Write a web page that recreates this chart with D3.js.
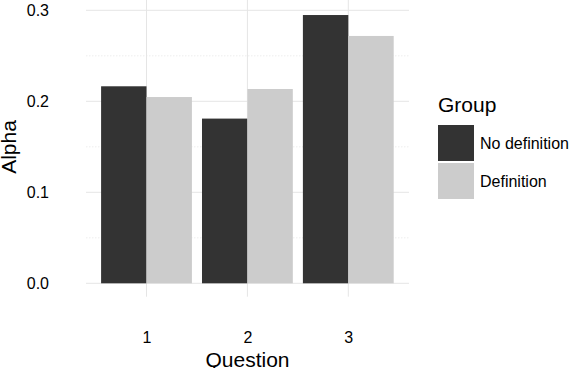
<!DOCTYPE html>
<html><head><meta charset="utf-8">
<script src="https://cdn.jsdelivr.net/npm/d3@7"></script>
<style>body{margin:0;background:#fff}svg{display:block}text{font-family:"Liberation Sans",Arial,sans-serif}</style>
</head><body>
<svg id="c" width="576" height="368"></svg>
<script>
const questions = ["1", "2", "3"];
const groups = ["No definition", "Definition"];
const noDefinition = [0.2165, 0.181, 0.2948];
const definition = [0.2047, 0.2135, 0.2718];
const yTicks = [0.0, 0.1, 0.2, 0.3];
const yMinor = [0.05, 0.15, 0.25];
const groupColors = ["#333333", "#cccccc"];

const svg = d3.select("#c");
const panel = {left: 86, right: 409, top: 1.6, bottom: 296.7};

const xp = d3.scalePoint().domain(questions).range([146.5, 348.3]);
const step = xp.step();
const xg = d3.scaleBand().domain(groups).range([-0.45 * step, 0.45 * step]);
const y = d3.scaleLinear().domain([0, 0.3]).range([283.3, 283.3 - 0.3 * 910]);

// minor grid
svg.append("g").selectAll("line").data(yMinor).join("line")
  .attr("x1", panel.left).attr("x2", panel.right)
  .attr("y1", d => y(d)).attr("y2", d => y(d))
  .attr("stroke", "#e8e8e8").attr("stroke-width", 0.8).attr("stroke-dasharray", "1.5,1.5");
// major grid
svg.append("g").selectAll("line").data(yTicks).join("line")
  .attr("x1", panel.left).attr("x2", panel.right)
  .attr("y1", d => y(d)).attr("y2", d => y(d))
  .attr("stroke", "#e5e5e5").attr("stroke-width", 1);
svg.append("g").selectAll("line").data(questions).join("line")
  .attr("x1", d => xp(d)).attr("x2", d => xp(d))
  .attr("y1", panel.top - 2).attr("y2", panel.bottom)
  .attr("stroke", "#e5e5e5").attr("stroke-width", 1);

// bars
const series = [noDefinition, definition];
groups.forEach((g, gi) => {
  svg.append("g").selectAll("rect").data(questions).join("rect")
    .attr("x", d => xp(d) + xg(g))
    .attr("width", xg.bandwidth())
    .attr("y", (d, i) => y(series[gi][i]))
    .attr("height", (d, i) => y(0) - y(series[gi][i]))
    .attr("fill", groupColors[gi]);
});

// y axis labels
const yAxis = d3.axisLeft(y).tickValues(yTicks).tickFormat(d3.format(".1f")).tickSize(0).tickPadding(0);
const ya = svg.append("g").attr("transform", "translate(49,0)").call(yAxis);
ya.select(".domain").remove();
ya.selectAll("text").attr("font-size", 16).attr("fill", "#000").attr("font-family", '"Liberation Sans",Arial,sans-serif');

// x axis labels
const xAxis = d3.axisBottom(xp).tickSize(0).tickPadding(0);
const xa = svg.append("g").attr("transform", "translate(0,331.5)").call(xAxis);
xa.select(".domain").remove();
xa.selectAll("text").attr("font-size", 16).attr("fill", "#000").attr("dy", "0.71em").attr("font-family", '"Liberation Sans",Arial,sans-serif');

// titles
svg.append("text").attr("x", 247.5).attr("y", 367).attr("text-anchor", "middle")
  .attr("font-size", 21).text("Question");
svg.append("text").attr("transform", "translate(16,147) rotate(-90)").attr("text-anchor", "middle")
  .attr("font-size", 21).text("Alpha");

// legend
svg.append("text").attr("x", 438).attr("y", 112).attr("font-size", 21).text("Group");
groups.forEach((g, i) => {
  const top = 125 + i * 38;
  svg.append("rect").attr("x", 438).attr("y", top).attr("width", 36).attr("height", 36).attr("fill", groupColors[i]);
  svg.append("text").attr("x", 480).attr("y", top + 18).attr("dy", "0.36em").attr("font-size", 16).text(g);
});
</script>
</body></html>
